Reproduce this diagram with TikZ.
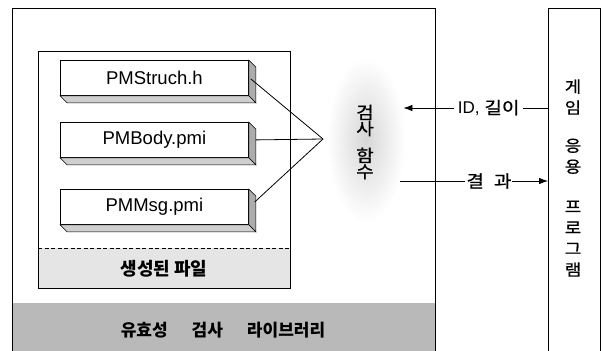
\documentclass[tikz,border=0pt]{standalone}
\usepackage{fontspec}
\setmainfont{Liberation Sans}
\newfontfamily\kr{Noto Sans CJK KR}
\newfontfamily\krw[FakeStretch=1.12,FakeBold=0.8]{Noto Sans CJK KR}
\usetikzlibrary{arrows.meta,shapes.geometric}
\begin{document}
\begin{tikzpicture}[x=1pt,y=-1pt,line width=0.8pt,
  filebox/.style={draw,fill=white,minimum width=188pt,minimum height=35pt,
    anchor=north west,inner sep=0pt,font=\fontsize{18.5}{22}\selectfont},
  sideface/.style={draw,fill=gray!65,line width=0.6pt},
  bottomface/.style={draw,fill=gray!38,line width=0.6pt},
  krtext/.style={font=\krw\fontsize{17}{18}\selectfont,inner sep=1pt},
  arr/.style={-{Latex[length=9pt,width=6.5pt]}},
]
\useasboundingbox (0,0) rectangle (603,351);
% outer library box
\fill[gray!55] (12,303) rectangle (435,351);
\draw[line width=0.9pt] (12,351) -- (12,8) -- (435,8) -- (435,351);
\node[font=\kr\bfseries\fontsize{17}{18}\selectfont] (lib) at (223,330)
  {유효성\hspace{24pt}검사\hspace{24pt}라이브러리};
% inner generated-files box
\fill[gray!20] (38,248) rectangle (290,288);
\draw (38,51) rectangle (290,288);
\draw[dashed,dash pattern=on 4pt off 2.5pt,line width=0.7pt] (38,248) -- (290,248);
\node[font=\kr\bfseries\fontsize{18}{18}\selectfont] (gen) at (164,269) {생성된 파일};
% file boxes
\foreach \n/\y/\t in {f1/60/PMStruch.h, f2/122/PMBody.pmi, f3/189/PMMsg.pmi}{
  \node[filebox] (\n) at (60,\y) {\t};
  \draw[sideface] (\n.north east) -- ([shift={(7,7)}]\n.north east)
     -- ([shift={(7,7)}]\n.south east) -- (\n.south east) -- cycle;
  \draw[bottomface] (\n.south west) -- (\n.south east)
     -- ([shift={(7,7)}]\n.south east) -- ([shift={(7,7)}]\n.south west) -- cycle;
}
% check function ellipse
\node[ellipse,minimum width=78pt,minimum height=165pt,inner sep=0pt,
  shade,inner color=gray!32,outer color=white] (func) at (366,140) {};
\node[font=\krw\fontsize{17}{16}\selectfont,align=center,inner sep=0pt] (functext) at (365,142)
  {검\\사\\[11pt]함\\수};
\coordinate (apex) at (323,139);
\draw ([shift={(2,1)}]f1.east) -- (apex);
\draw ([shift={(7,0)}]f2.east) -- (apex);
\draw ([shift={(6,-5)}]f3.east) -- (apex);
% application box
\draw[line width=0.9pt] (548,351) -- (548,8) -- (600,8) -- (600,351);
\node[font=\krw\fontsize{16}{21}\selectfont,align=center,inner sep=0pt] (app) at (573,178)
  {게\\임\\[17pt]응\\용\\[19pt]프\\로\\그\\램};
% arrows
\coordinate (in1) at (548,108);
\coordinate (out2) at (548,181);
\draw[arr] (in1) -- node[pos=0.41,fill=white,inner xsep=4pt,inner ysep=1pt,
   font=\fontsize{17}{18}\selectfont] (idlbl) {ID, {\krw 길이}} ([xshift=-2pt]func.east |- in1);
\draw[arr] ([xshift=-5pt]func.east |- out2) -- node[pos=0.6,fill=white,inner xsep=7pt,
   krtext] (reslbl) {결\hspace{10pt}과} (out2);
\end{tikzpicture}
\end{document}
